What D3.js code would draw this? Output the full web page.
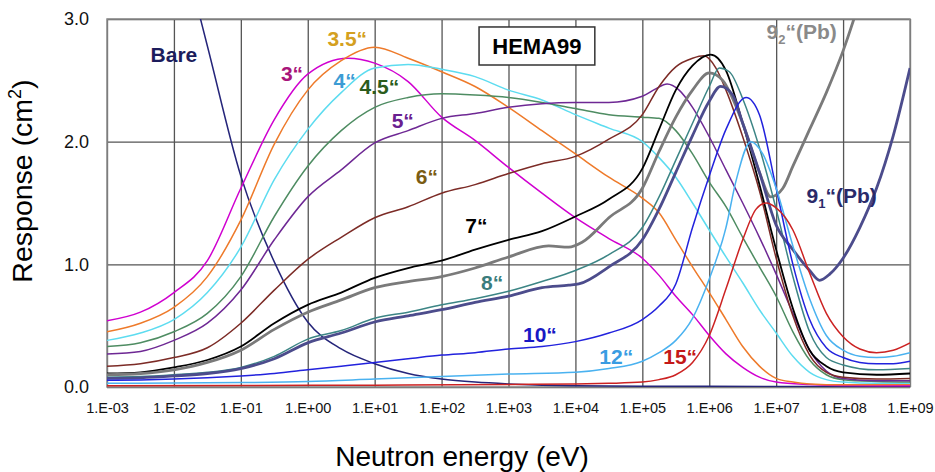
<!DOCTYPE html>
<html>
<head>
<meta charset="utf-8">
<script src="https://cdn.jsdelivr.net/npm/d3@7"></script>
<style>
body{margin:0;background:#fff;}
text{font-family:"Liberation Sans",Arial,Helvetica,sans-serif;}
</style>
</head>
<body>
<svg id="chart" width="935" height="472"></svg>
<script>
// energy points are written as powers of ten (eV), response in cm2
var decades = [-3,-2,-1,0,1,2,3,4,5,6,7,8,9];
var yTicks = [0,1,2,3];

var bare = [[-3,5.95],[-2.5,4.9],[-2,3.85],[-1.5,2.78],[-1,1.72],[-0.5,1.02],[0,0.53],[0.5,0.31],[1,0.19],[1.5,0.11],[2,0.065],[2.5,0.04],[3,0.025],[3.5,0.015],[4,0.01],[5,0.006],[7,0.005],[9,0.005]];
var s3 = [[-3,0.54],[-2.5,0.61],[-2,0.77],[-1.5,1.03],[-1,1.62],[-0.5,2.18],[0,2.55],[0.6,2.68],[1,2.64],[1.5,2.49],[2,2.2],[2.5,2.01],[3,1.79],[3.5,1.58],[4,1.38],[4.5,1.21],[5,1.05],[5.25,0.91],[5.5,0.74],[5.75,0.59],[6,0.42],[6.25,0.27],[6.5,0.16],[6.75,0.08],[7,0.04],[7.5,0.02],[8,0.012],[9,0.01]];
var s35 = [[-3,0.45],[-2.5,0.52],[-2,0.65],[-1.5,0.9],[-1,1.36],[-0.5,1.98],[0,2.42],[0.5,2.66],[1,2.77],[1.5,2.68],[2,2.57],[2.5,2.45],[3,2.28],[3.5,2.09],[4,1.9],[4.5,1.71],[5,1.54],[5.25,1.42],[5.5,1.2],[5.75,0.98],[6,0.77],[6.25,0.55],[6.5,0.33],[6.75,0.17],[7,0.07],[7.25,0.04],[7.5,0.025],[8,0.018],[9,0.02]];
var s4 = [[-3,0.38],[-2.5,0.44],[-2,0.55],[-1.5,0.77],[-1,1.14],[-0.5,1.69],[0,2.1],[0.5,2.4],[1,2.6],[1.5,2.63],[2,2.59],[2.5,2.53],[3,2.42],[3.5,2.34],[4,2.22],[4.5,2.11],[5,2.0],[5.25,1.87],[5.5,1.71],[5.75,1.5],[6,1.28],[6.25,1.06],[6.5,0.85],[6.75,0.63],[7,0.44],[7.25,0.25],[7.5,0.12],[7.75,0.06],[8,0.04],[8.5,0.03],[9,0.03]];
var s45 = [[-3,0.33],[-2.5,0.36],[-2,0.45],[-1.5,0.6],[-1,0.9],[-0.5,1.39],[0,1.8],[0.5,2.09],[1,2.28],[1.5,2.36],[2,2.39],[2.5,2.38],[3,2.36],[3.5,2.32],[4,2.27],[4.5,2.22],[5,2.2],[5.25,2.19],[5.5,2.09],[5.75,1.9],[6,1.67],[6.25,1.47],[6.5,1.22],[6.75,0.98],[7,0.74],[7.25,0.45],[7.5,0.22],[7.75,0.1],[8,0.06],[8.5,0.045],[9,0.04]];
var s5 = [[-3,0.27],[-2.5,0.29],[-2,0.38],[-1.5,0.52],[-1,0.79],[-0.5,1.2],[0,1.55],[0.5,1.77],[1,1.99],[1.5,2.09],[2,2.19],[2.5,2.23],[3,2.28],[3.5,2.31],[4,2.32],[4.5,2.32],[5,2.37],[5.2,2.43],[5.37,2.47],[5.55,2.42],[5.75,2.28],[6,2.04],[6.25,1.77],[6.5,1.5],[6.75,1.22],[7,0.92],[7.25,0.6],[7.5,0.3],[7.75,0.13],[8,0.07],[8.5,0.05],[9,0.05]];
var s6 = [[-3,0.17],[-2.5,0.19],[-2,0.24],[-1.5,0.32],[-1,0.52],[-0.5,0.79],[0,1.04],[0.5,1.22],[1,1.38],[1.5,1.47],[2,1.58],[2.5,1.65],[3,1.74],[3.5,1.82],[4,1.88],[4.5,2.02],[5,2.22],[5.25,2.45],[5.5,2.61],[5.75,2.68],[5.92,2.7],[6.1,2.6],[6.25,2.42],[6.5,2.04],[6.75,1.6],[7,1.05],[7.25,0.58],[7.5,0.26],[7.75,0.12],[8,0.08],[8.5,0.065],[9,0.07]];
var s7 = [[-3,0.11],[-2.5,0.12],[-2,0.16],[-1.5,0.22],[-1,0.33],[-0.5,0.52],[0,0.67],[0.5,0.77],[1,0.89],[1.5,0.97],[2,1.03],[2.5,1.12],[3,1.2],[3.5,1.27],[4,1.39],[4.5,1.53],[5,1.78],[5.25,2.1],[5.5,2.42],[5.75,2.62],[6.02,2.71],[6.25,2.58],[6.5,2.15],[6.75,1.65],[7,1.12],[7.25,0.64],[7.5,0.3],[7.75,0.17],[8,0.12],[8.5,0.1],[9,0.11]];
var pb2 = [[-3,0.1],[-2.5,0.11],[-2,0.14],[-1.5,0.2],[-1,0.3],[-0.5,0.47],[0,0.61],[0.5,0.71],[1,0.81],[1.5,0.86],[2,0.9],[2.5,0.97],[3,1.06],[3.6,1.15],[3.9,1.14],[4.1,1.18],[4.5,1.38],[5,1.62],[5.25,1.92],[5.5,2.2],[5.75,2.42],[6,2.56],[6.2,2.5],[6.5,2.15],[6.75,1.75],[6.92,1.55],[7.1,1.62],[7.25,1.8],[7.5,2.1],[7.75,2.4],[8,2.74],[8.25,3.15],[8.5,3.6],[9,4.6]];
var s8 = [[-3,0.08],[-2.5,0.085],[-2,0.1],[-1.5,0.12],[-1,0.16],[-0.5,0.25],[0,0.39],[0.5,0.46],[1,0.56],[1.5,0.61],[2,0.67],[2.5,0.72],[3,0.78],[3.5,0.86],[4,0.95],[4.5,1.08],[5,1.3],[5.25,1.55],[5.5,1.85],[5.75,2.15],[6,2.45],[6.15,2.6],[6.3,2.57],[6.5,2.35],[6.75,1.95],[7,1.45],[7.25,0.9],[7.5,0.45],[7.75,0.24],[8,0.18],[8.5,0.14],[9,0.15]];
var pb1 = [[-3,0.07],[-2.5,0.075],[-2,0.09],[-1.5,0.11],[-1,0.15],[-0.5,0.23],[0,0.36],[0.5,0.44],[1,0.53],[1.5,0.58],[2,0.63],[2.5,0.69],[3,0.74],[3.5,0.81],[3.9,0.83],[4.05,0.84],[4.5,0.98],[5,1.2],[5.25,1.45],[5.5,1.75],[5.75,2.05],[6,2.33],[6.17,2.45],[6.35,2.38],[6.5,2.15],[6.75,1.75],[7,1.32],[7.25,1.12],[7.5,0.95],[7.65,0.87],[7.8,0.92],[8,1.05],[8.25,1.3],[8.5,1.62],[8.75,2.05],[9,2.6]];
var s10 = [[-3,0.055],[-2.5,0.058],[-2,0.065],[-1.5,0.075],[-1,0.09],[-0.5,0.11],[0,0.14],[0.5,0.17],[1,0.2],[1.5,0.23],[2,0.26],[2.5,0.28],[3,0.31],[3.5,0.33],[4,0.37],[4.5,0.44],[5,0.55],[5.25,0.66],[5.5,0.84],[5.75,1.3],[6,1.72],[6.25,2.1],[6.55,2.36],[6.75,2.22],[7,1.62],[7.25,1.0],[7.5,0.55],[7.75,0.32],[8,0.24],[8.25,0.2],[8.5,0.19],[8.75,0.19],[9,0.21]];
var s12 = [[-3,0.03],[-2,0.032],[-1,0.036],[0,0.045],[1,0.065],[2,0.085],[3,0.105],[4,0.12],[4.5,0.15],[5,0.21],[5.25,0.28],[5.5,0.38],[5.75,0.56],[6,0.88],[6.25,1.3],[6.4,1.68],[6.62,2.0],[6.8,1.9],[7,1.62],[7.25,1.15],[7.5,0.72],[7.75,0.42],[8,0.3],[8.25,0.25],[8.5,0.24],[8.75,0.25],[9,0.28]];
var s15 = [[-3,0.01],[-1,0.012],[1,0.015],[3,0.02],[4,0.025],[4.5,0.03],[5,0.04],[5.25,0.06],[5.5,0.1],[5.75,0.2],[6,0.42],[6.25,0.8],[6.5,1.2],[6.7,1.45],[6.85,1.5],[7,1.46],[7.25,1.28],[7.5,0.93],[7.75,0.6],[8,0.41],[8.25,0.31],[8.5,0.28],[8.75,0.3],[9,0.36]];

var curves = [bare, s3, s35, s4, s45, s5, s6, s7, pb2, s8, pb1, s10, s12, s15];
var lineColors = ["#25257a","#d000d0","#ee7a2a","#5ddcf0","#4e8c62","#6e2894","#7c2b26","#000000","#7a7a7a","#3c8585","#4c4c8c","#2222dd","#4ab2f0","#cc2222"];
var lineWidths = [1.5,1.5,1.5,1.5,1.5,1.5,1.5,1.8,2.8,1.5,2.8,1.5,1.5,1.5];

// curve labels: text, energy power, response
var labelText = ["Bare","3\u201c","3.5\u201c","4\u201c","4.5\u201c","5\u201c","6\u201c","7\u201c","8\u201c","10\u201c","12\u201c","15\u201c"];
var labelAt = [[-2.0,2.71],[-0.235,2.56],[0.59,2.84],[0.55,2.50],[1.07,2.45],[1.42,2.17],[1.78,1.72],[2.52,1.32],[2.755,0.85],[3.47,0.43],[4.61,0.25],[5.565,0.25]];
var labelColors = ["#1c1c5c","#a8147a","#d4a020","#3c9cd4","#2c5c1c","#6a2090","#7a5c14","#000000","#3a7c7c","#1818c4","#3a9ce2","#c41818"];

var mLeft = 107, mRight = 910, mTop = 19, mBottom = 387;

var svg = d3.select("#chart");

var x = d3.scaleLog().domain([1e-3, 1e9]).range([mLeft, mRight]);
var y = d3.scaleLinear().domain([0, 3]).range([mBottom, mTop]);

function fmtE(v) {
  var p = Math.round(Math.log10(v));
  return "1.E" + (p < 0 ? "-" : "+") + String(Math.abs(p)).padStart(2, "0");
}

var xAxis = d3.axisBottom(x)
  .tickValues(decades.map(function(p){ return Math.pow(10, p); }))
  .tickFormat(fmtE)
  .tickSize(-(mBottom - mTop))
  .tickPadding(16);

var gx = svg.append("g")
  .attr("transform", "translate(0," + mBottom + ")")
  .call(xAxis);
gx.select(".domain").remove();
gx.selectAll("line").attr("stroke", "#555").attr("stroke-width", 1.3);
gx.selectAll("text").attr("font-size", "14.5px").attr("fill", "#111")
  .attr("font-family", "'Liberation Sans',Arial,sans-serif");

var yAxis = d3.axisLeft(y)
  .tickValues(yTicks)
  .tickFormat(d3.format(".1f"))
  .tickSize(-(mRight - mLeft))
  .tickPadding(18);

var gy = svg.append("g")
  .attr("transform", "translate(" + mLeft + ",0)")
  .call(yAxis);
gy.select(".domain").remove();
gy.selectAll("line").attr("stroke", "#555").attr("stroke-width", 1.3);
gy.selectAll("text").attr("font-size", "18px").attr("fill", "#111")
  .attr("font-family", "'Liberation Sans',Arial,sans-serif");

svg.append("rect")
  .attr("x", mLeft).attr("y", mTop)
  .attr("width", mRight - mLeft).attr("height", mBottom - mTop)
  .attr("fill", "none").attr("stroke", "#8a8a8a").attr("stroke-width", 1.5);

svg.append("clipPath").attr("id", "plot")
  .append("rect")
  .attr("x", mLeft).attr("y", mTop)
  .attr("width", mRight - mLeft).attr("height", mBottom - mTop);

var line = d3.line()
  .x(function(d){ return x(Math.pow(10, d[0])); })
  .y(function(d){ return y(d[1]); })
  .curve(d3.curveMonotoneX);

svg.append("g").attr("clip-path", "url(#plot)")
  .selectAll("path")
  .data(curves)
  .enter().append("path")
  .attr("d", line)
  .attr("fill", "none")
  .attr("stroke", function(d, i){ return lineColors[i]; })
  .attr("stroke-width", function(d, i){ return lineWidths[i]; })
  .attr("stroke-linejoin", "round");

// curve labels
svg.append("g").selectAll("text")
  .data(labelText)
  .enter().append("text")
  .attr("x", function(d, i){ return x(Math.pow(10, labelAt[i][0])); })
  .attr("y", function(d, i){ return y(labelAt[i][1]); })
  .attr("dy", "0.36em")
  .attr("text-anchor", "middle")
  .attr("font-size", "21px")
  .attr("font-weight", "bold")
  .attr("fill", function(d, i){ return labelColors[i]; })
  .text(function(d){ return d; });

// lead-shell sphere labels with subscript
var pbText = [["9","2","\u201c(Pb)"],["9","1","\u201c(Pb)"]];
var pbAt = [[7.38,2.90],[7.98,1.565]];
var pbColors = ["#8a8a8a","#2a2a6a"];
pbText.forEach(function(t, i){
  var tx = svg.append("text")
    .attr("x", x(Math.pow(10, pbAt[i][0])))
    .attr("y", y(pbAt[i][1]))
    .attr("dy", "0.36em")
    .attr("text-anchor", "middle")
    .attr("font-size", "21px")
    .attr("font-weight", "bold")
    .attr("fill", pbColors[i]);
  tx.append("tspan").text(t[0]);
  tx.append("tspan").attr("font-size", "13px").attr("dy", "5").text(t[1]);
  tx.append("tspan").attr("dy", "-5").text(t[2]);
});

// HEMA99 box
var boxAt = [2.56, 4.29, 2.935, 2.625];
svg.append("rect")
  .attr("x", x(Math.pow(10, boxAt[0])))
  .attr("y", y(boxAt[2]))
  .attr("width", x(Math.pow(10, boxAt[1])) - x(Math.pow(10, boxAt[0])))
  .attr("height", y(boxAt[3]) - y(boxAt[2]))
  .attr("fill", "#fff").attr("stroke", "#333").attr("stroke-width", 1.5);
svg.append("text")
  .attr("x", (x(Math.pow(10, boxAt[0])) + x(Math.pow(10, boxAt[1]))) / 2)
  .attr("y", (y(boxAt[2]) + y(boxAt[3])) / 2)
  .attr("dy", "0.36em")
  .attr("text-anchor", "middle")
  .attr("font-size", "22px").attr("font-weight", "bold").attr("fill", "#000")
  .text("HEMA99");

// axis titles
svg.append("text")
  .attr("x", 462).attr("y", 466)
  .attr("text-anchor", "middle")
  .attr("font-size", "28px").attr("fill", "#000")
  .text("Neutron energy (eV)");

var yt = svg.append("text")
  .attr("transform", "translate(32,181) rotate(-90)")
  .attr("text-anchor", "middle")
  .attr("font-size", "28.5px").attr("fill", "#000");
yt.append("tspan").text("Response (cm");
yt.append("tspan").attr("font-size", "18px").attr("dy", "-11").text("2");
yt.append("tspan").attr("dy", "11").text(")");
</script>
</body>
</html>
